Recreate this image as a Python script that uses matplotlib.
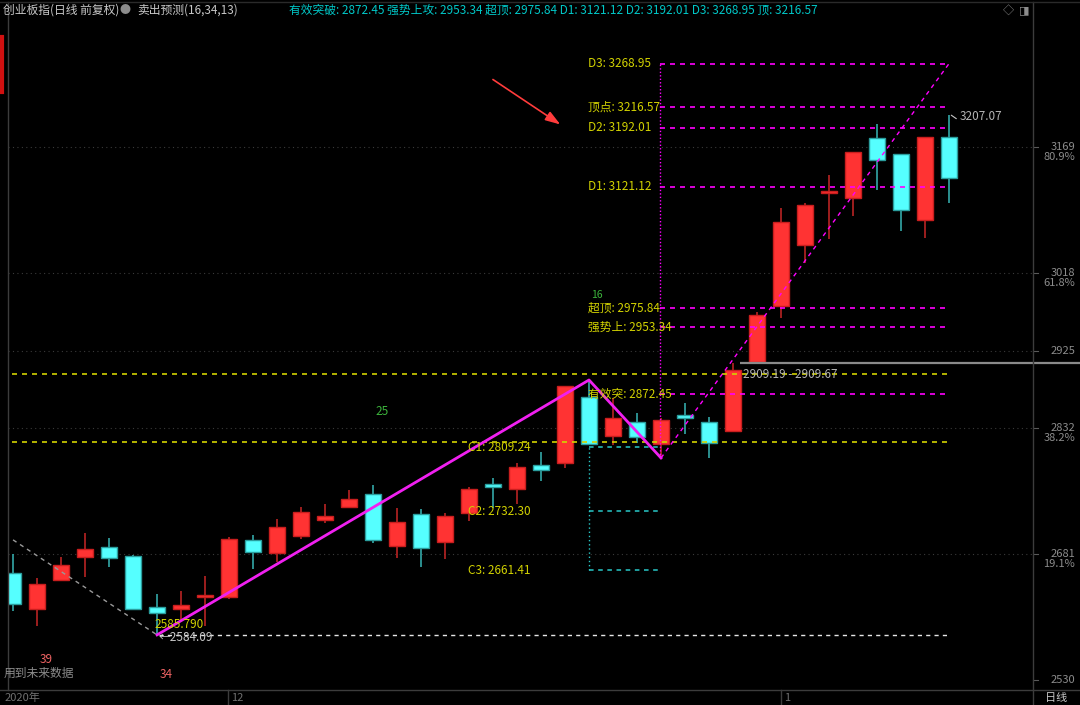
# 创业板指 daily candles with the 卖出预测 levels
import matplotlib
matplotlib.use('Agg')
import matplotlib.pyplot as plt
import matplotlib.transforms as mtransforms

plt.rcParams['font.family'] = ['Noto Sans CJK SC', 'DejaVu Sans']

# candle data (open, high, low, close), one per trading day
opens  = [2658.3, 2615.1, 2649.9, 2677.5, 2689.5, 2678.7, 2617.5, 2615.1, 2629.5, 2629.5,
          2697.9, 2682.3, 2702.7, 2721.8, 2737.4, 2753.0, 2690.7, 2729.0, 2695.5, 2730.2,
          2765.0, 2759.0, 2787.8, 2790.2, 2869.3, 2822.6, 2839.3, 2813.0, 2847.7, 2839.3,
          2828.6, 2911.3, 2978.4, 3051.6, 3113.9, 3107.9, 3179.9, 3160.7, 3081.5, 3181.1]
highs  = [2681.1, 2652.3, 2677.5, 2706.3, 2700.3, 2679.9, 2633.1, 2636.7, 2654.7, 2701.5,
          2703.9, 2723.0, 2737.4, 2741.0, 2757.8, 2763.8, 2736.2, 2735.0, 2730.2, 2761.4,
          2772.2, 2790.2, 2803.4, 2882.5, 2889.7, 2868.1, 2850.1, 2844.1, 2862.1, 2845.3,
          2910.1, 2971.2, 3095.9, 3101.9, 3135.5, 3163.1, 3196.6, 3160.7, 3181.1, 3207.07]
lows   = [2612.7, 2594.7, 2649.9, 2653.5, 2665.5, 2615.1, 2584.09, 2601.9, 2594.7, 2627.1,
          2663.1, 2671.5, 2699.1, 2718.2, 2737.4, 2694.3, 2676.3, 2665.5, 2675.1, 2720.6,
          2736.2, 2741.0, 2768.6, 2784.2, 2813.0, 2811.8, 2814.2, 2796.2, 2825.0, 2796.2,
          2828.6, 2911.3, 2964.0, 3030.0, 3058.8, 3086.3, 3117.5, 3068.3, 3060.0, 3101.9]
closes = [2621.1, 2645.1, 2667.9, 2687.1, 2676.3, 2615.1, 2610.3, 2619.9, 2631.9, 2699.1,
          2683.5, 2713.4, 2731.4, 2726.6, 2747.0, 2697.9, 2719.4, 2688.3, 2726.6, 2759.0,
          2761.4, 2785.4, 2781.8, 2882.5, 2813.0, 2844.1, 2821.4, 2841.7, 2844.1, 2814.2,
          2901.7, 2967.6, 3079.1, 3099.5, 3115.1, 3163.1, 3153.5, 3093.5, 3181.1, 3131.9]

# forecast levels
d_names  = ['D3', '顶点', 'D2', 'D1', '超顶', '强势上', '有效突']
d_values = [3268.95, 3216.57, 3192.01, 3121.12, 2975.84, 2953.34, 2872.45]
c_names  = ['C1', 'C2', 'C3']
c_values = [2809.24, 2732.30, 2661.41]
yellow_levels = [2897.0, 2815.4]
zig_x = [6, 24, 27]
zig_y = [2584.09, 2889.7, 2796.2]
proj_x = [27, 39]
proj_y = [2796.2, 3268.95]
low_value = 2584.09
gap_value = 2909.5

# right axis
ytick_vals = [3169, 3018, 2925, 2832, 2681, 2530]
ytick_pct  = ['80.9%', '61.8%', '', '38.2%', '19.1%', '']

RED, RED_EDGE, RED_WICK = '#ff3333', '#c81e1e', '#b82424'
CYAN, CYAN_EDGE, CYAN_WICK = '#55ffff', '#2a9d9d', '#33a8a8'
YEL = '#d2d200'
MAG = '#ff00ff'
GRAY = '#8c8c8c'

W, H = 1080, 705
fig = plt.figure(figsize=(W / 100, H / 100), dpi=100)
fig.patch.set_facecolor('black')
ax = fig.add_axes([8 / W, 15 / H, 1025 / W, 668 / H])
ax.set_facecolor('black')
ax.set_xlim(-0.21, 42.5)
ax.set_ylim(2518.0, 3318.9)
for s in ax.spines.values():
    s.set_visible(False)
ax.set_xticks([])
ax.set_yticks([])

# grid lines
for v in ytick_vals[:-1]:
    ax.axhline(v, color='#3a3a3a', lw=0.8, ls=(0, (1, 3)), zorder=0)

# candles
n = len(opens)
for i in range(n):
    o, h, l, c = opens[i], highs[i], lows[i], closes[i]
    up = c >= o
    fc, ec, wc = (RED, RED_EDGE, RED_WICK) if up else (CYAN, CYAN_EDGE, CYAN_WICK)
    ax.vlines(i, l, h, color=wc, lw=1.2, zorder=2)
    bot = min(o, c)
    hgt = max(abs(c - o), 2.5)
    ax.bar(i, hgt, bottom=bot, width=0.7, color=fc, edgecolor=ec, lw=1, zorder=3)

# dashed yellow levels across the chart
for v in yellow_levels:
    ax.hlines(v, -0.05, 38.95, color=YEL, lw=1.2, ls=(0, (3, 3)), zorder=4)

# D levels
ax.vlines(26.95, proj_y[0], d_values[0], color=MAG, lw=1, ls=(0, (1, 1.5)), zorder=4)
for name, v in zip(d_names, d_values):
    ax.hlines(v, 26.95, 38.95, color=MAG, lw=1.2, ls=(0, (3, 3)), zorder=4)
    ax.text(23.96, v, f'{name}: {v:.2f}', color=YEL, fontsize=8.5, va='center', ha='left', zorder=6)

# C levels
ax.vlines(24, c_values[2], c_values[0], color='#28c8c8', lw=1, ls=(0, (1, 2)), zorder=4)
for name, v in zip(c_names, c_values):
    ax.hlines(v, 24, 26.9, color='#28c8c8', lw=1.1, ls=(0, (3, 3)), zorder=4)
    ax.text(18.96, v, f'{name}: {v:.2f}', color=YEL, fontsize=8.5, va='center', ha='left', zorder=6)

# zigzag and projection
ax.plot(zig_x, zig_y, color='#f020f0', lw=2, zorder=5)
ax.plot(proj_x, proj_y, color=MAG, lw=1, ls=(0, (3, 3)), zorder=5)
ax.plot([0, 6], [2698.0, low_value], color='#9a9a9a', lw=1, ls=(0, (3, 3)), zorder=5)

# low line and gap line
ax.hlines(low_value, 6.1, 38.95, color='#e6e6e6', lw=1, ls=(0, (3, 3)), zorder=4)
ax.hlines(gap_value, 30.3, 44.5, color='#8a8a8a', lw=1.6, zorder=4, clip_on=False)
ax.text(30.4, gap_value - 5, '2909.19 - 2909.67', color='#b4b4b4', fontsize=8.5, va='top', zorder=6)

# annotations
ax.text(6.05, low_value - 3, '←2584.09', color='#c8c8c8', fontsize=8.5, va='center', zorder=6)
ax.text(5.9, 2596.0, '2585.790', color=YEL, fontsize=8.5, va='center', zorder=6)
ax.annotate('', xy=(39.4, highs[39] - 6), xytext=(39.0, highs[39] + 2),
            arrowprops=dict(arrowstyle='-', color='#c8c8c8', lw=0.8))
ax.text(39.45, highs[39] - 2, '3207.07', color='#b4b4b4', fontsize=8.5, va='center', zorder=6)
ax.text(15.1, 2852.5, '25', color='#3cb43c', fontsize=8.5, va='center', zorder=6)
ax.text(24.1, 2991.0, '16', color='#3cb43c', fontsize=7.5, va='center', zorder=5)
ax.text(1.1, 2555.0, '39', color='#f06464', fontsize=8.5, va='center', zorder=6)
ax.text(6.1, 2537.0, '34', color='#f06464', fontsize=8.5, va='center', zorder=6)
ax.annotate('', xy=(22.9, 3194.2), xytext=(19.9, 3251.8),
            arrowprops=dict(arrowstyle='-|>,head_length=0.9,head_width=0.3', color='#ff3c3c', lw=1.2))

# right axis labels
ytr = ax.get_yaxis_transform()
for v, p in zip(ytick_vals, ytick_pct):
    ax.plot([1.0, 1.005], [v, v], color='#5a5a5a', lw=0.8, transform=ytr, clip_on=False)
    ax.text(1.041, v, str(v), color=GRAY, fontsize=8, ha='right', va='center', transform=ytr)
    if p:
        off = mtransforms.offset_copy(ytr, fig=fig, y=-10, units='dots')
        ax.text(1.041, v, p, color=GRAY, fontsize=8, ha='right', va='center', transform=off)

# frame lines
fig.add_artist(plt.Line2D([8 / W, 8 / W], [15 / H, 1 - 2 / H], color='#3c3c3c', lw=1))
fig.add_artist(plt.Line2D([1033 / W, 1033 / W], [0, 1 - 2 / H], color='#3c3c3c', lw=1))
fig.add_artist(plt.Line2D([0, 1], [15 / H, 15 / H], color='#3c3c3c', lw=1))
fig.add_artist(plt.Line2D([0, 1], [1 - 2 / H, 1 - 2 / H], color='#2a2a2a', lw=1))
fig.add_artist(plt.Line2D([1.5 / W, 1.5 / W], [1 - 37 / H, 1 - 92 / H], color='#d01010', lw=3))
for px in [228, 781]:
    fig.add_artist(plt.Line2D([px / W, px / W], [0, 15 / H], color='#3c3c3c', lw=1))

# bottom labels
fig.text(5 / W, 7 / H, '2020年', color='#707070', fontsize=8, va='center')
fig.text(231 / W, 7 / H, '12', color='#707070', fontsize=8, va='center')
fig.text(784 / W, 7 / H, '1', color='#707070', fontsize=8, va='center')
fig.text(1045 / W, 7 / H, '日线', color='#c8c8c8', fontsize=8, va='center')
fig.text(4 / W, 1 - 673 / H, '用到未来数据', color='#8c8c8c', fontsize=8.5, va='center')

# header
fig.text(3 / W, 1 - 10 / H, '创业板指(日线 前复权)', color='#c8c8c8', fontsize=8.5, va='center')
fig.text(125 / W, 1 - 10 / H, '●', color='#8c8c8c', fontsize=8, va='center', ha='center')
fig.text(137 / W, 1 - 10 / H, '卖出预测(16,34,13)', color='#c8c8c8', fontsize=8.5, va='center')
fig.text(289 / W, 1 - 10 / H,
         '有效突破: 2872.45 强势上攻: 2953.34 超顶: 2975.84 D1: 3121.12 D2: 3192.01 D3: 3268.95 顶: 3216.57',
         color='#00c8c8', fontsize=8.5, va='center')
fig.text(1008 / W, 1 - 10 / H, '◇', color='#8c8c8c', fontsize=8, va='center', ha='center')
fig.text(1024 / W, 1 - 10 / H, '◨', color='#8c8c8c', fontsize=8, va='center', ha='center')

fig.savefig('out.png', dpi=100, facecolor='black')
